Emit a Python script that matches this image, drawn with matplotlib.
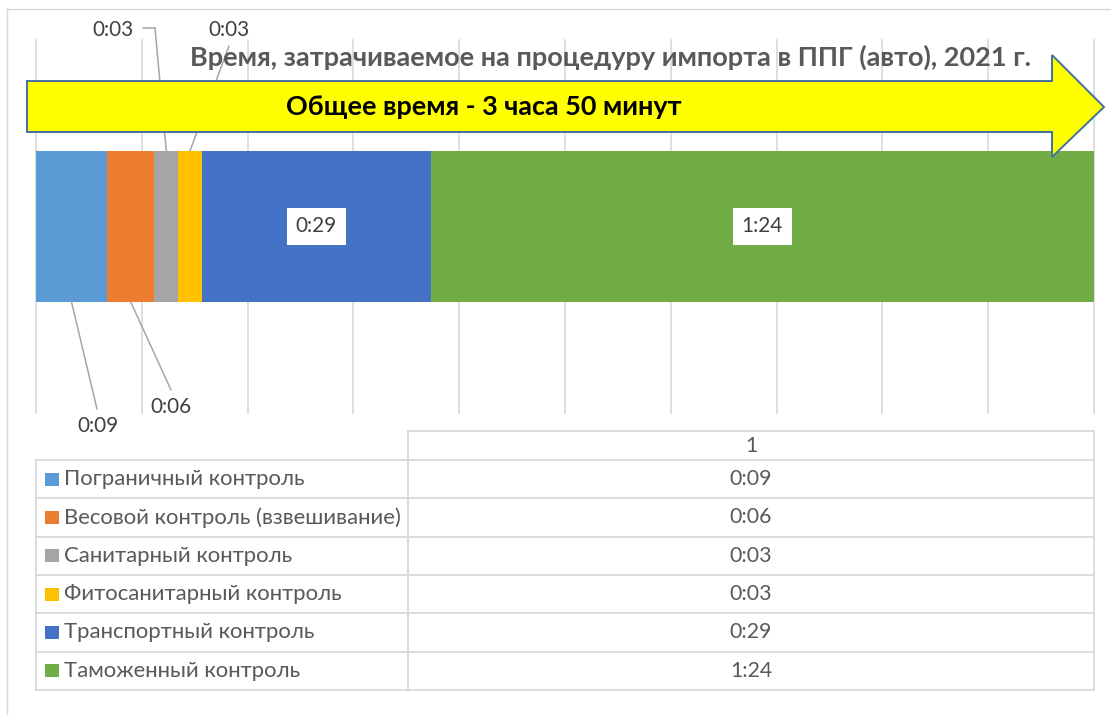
import matplotlib
matplotlib.use('Agg')
import matplotlib.pyplot as plt
from matplotlib.patches import Polygon, Rectangle
from matplotlib.lines import Line2D
from matplotlib.transforms import IdentityTransform
import numpy as np

# ---------------- data ----------------
categories = ['Пограничный контроль', 'Весовой контроль (взвешивание)',
              'Санитарный контроль', 'Фитосанитарный контроль',
              'Транспортный контроль', 'Таможенный контроль']
minutes = [9, 6, 3, 3, 29, 84]
colors = ['#5B9BD5', '#ED7D31', '#A5A5A5', '#FFC000', '#4472C4', '#70AD47']
series_name = '1'
title = 'Время, затрачиваемое на процедуру импорта в ППГ (авто), 2021 г.'
banner = 'Общее время - 3 часа 50 минут'


def fmt(m):
    return f'{m // 60}:{m % 60:02d}'


W, H = 1111, 715
plt.rcParams['font.family'] = ['Lato', 'DejaVu Sans']
fig = plt.figure(figsize=(W / 100, H / 100), dpi=100)
renderer = fig.canvas.get_renderer()


def fx(x):
    return x / W


def fy(y):
    return 1 - y / H


def fit_size(s, target_w, weight='normal'):
    t = fig.text(0, 0, s, fontsize=10, fontweight=weight)
    w = t.get_window_extent(renderer).width
    t.remove()
    return 10 * target_w / w


GRID = '#D9D9D9'

# chart border
fig.add_artist(Line2D([fx(7), fx(7)], [fy(9), fy(715)], color=GRID, lw=1))
fig.add_artist(Line2D([fx(7), fx(1111)], [fy(9), fy(9)], color=GRID, lw=1))

# ---------------- bar axes ----------------
ax = fig.add_axes([fx(36), fy(413), (1094 - 36) / W, (413 - 40) / H])
total = sum(minutes)
ax.set_xlim(0, total)
ax.set_ylim(0, 1)
bar_h = 0.405
starts = np.cumsum([0] + minutes[:-1])
for s, v, c in zip(starts, minutes, colors):
    ax.barh(0.5, v, left=s, height=bar_h, color=c, zorder=2)
ax.set_xticks(np.linspace(0, total, 11))
ax.set_yticks([])
ax.grid(axis='x', color=GRID, lw=1.2, zorder=0)
for gl in ax.get_xgridlines():
    gl.set_clip_on(False)
ax.tick_params(length=0, labelbottom=False)
for sp in ax.spines.values():
    sp.set_visible(False)
ax.set_facecolor('none')

mids = starts + np.array(minutes) / 2
lab_fs = fit_size('0:09', 41)
LAB = '#404040'
LEAD = '#A6A6A6'
ytop = 0.5 + bar_h / 2
ybot = 0.5 - bar_h / 2

# outside labels (index, label center px, leader end px, bar edge, elbow px)
outside = [
    (0, (97.5, 426), (97, 409), ybot, None),
    (1, (170.5, 407), (171, 390), ybot, None),
    (2, (112.5, 29.5), (155, 28), ytop, (143, 28)),
    (3, (229, 29.5), (229, 46), ytop, None),
]
for i, (tx, ty), (lx, ly), yedge, elbow in outside:
    ax.annotate('', xy=(mids[i], yedge), xycoords='data',
                xytext=(fx(lx), fy(ly)), textcoords='figure fraction',
                arrowprops=dict(arrowstyle='-', color=LEAD, lw=1.1,
                                shrinkA=0, shrinkB=0), annotation_clip=False)
    if elbow is not None:
        ax.add_line(Line2D([fx(elbow[0]), fx(lx)], [fy(elbow[1]), fy(ly)],
                           transform=fig.transFigure, color=LEAD, lw=1.1,
                           clip_on=False))
    fig.text(fx(tx), fy(ty), fmt(minutes[i]), ha='center', va='center',
             fontsize=lab_fs, color=LAB)

# inside labels with white boxes
for i in (4, 5):
    cx, cy = ax.transData.transform((mids[i], 0.5))
    ax.add_patch(Rectangle((cx - 29.5, cy - 18.5), 59, 37, transform=IdentityTransform(),
                           facecolor='white', edgecolor='none', zorder=3))
    ax.text(mids[i], 0.5, fmt(minutes[i]), ha='center', va='center',
            fontsize=lab_fs, color=LAB, zorder=4)
ax.set_xlim(0, total)
ax.set_ylim(0, 1)

# ---------------- title ----------------
fig.text(fx(611), fy(57), title, ha='center', va='center', fontweight='bold',
         fontsize=fit_size(title, 842, 'bold'), color='#595959', zorder=3)

# ---------------- banner arrow ----------------
pts = [(27, 81), (1052, 81), (1052, 55), (1104, 107), (1052, 157), (1052, 132), (27, 132)]
fig.add_artist(Polygon([(fx(x), fy(y)) for x, y in pts], closed=True,
                       transform=fig.transFigure, facecolor='#FFFF00',
                       edgecolor='#41719C', lw=1.4, zorder=5))
fig.text(fx(484), fy(107), banner, ha='center', va='center', fontweight='bold',
         fontsize=fit_size(banner, 396, 'bold'), color='black', zorder=6)

# ---------------- data table ----------------
TL = dict(color=GRID, lw=1.3)
x0, xs, x1 = 36, 408, 1094
yh0, yr0, rh = 431, 460, 38.3
nrows = len(categories)
yend = yr0 + nrows * rh


def hline(xa, xb, y):
    fig.add_artist(Line2D([fx(xa), fx(xb)], [fy(y), fy(y)], **TL))


def vline(x, ya, yb):
    fig.add_artist(Line2D([fx(x), fx(x)], [fy(ya), fy(yb)], **TL))


hline(xs, x1, yh0)
vline(xs, yh0, yend)
vline(x1, yh0, yend)
vline(x0, yr0, yend)
for k in range(nrows + 1):
    hline(x0, x1, yr0 + k * rh)

val_fs = fit_size('0:09', 42)
leg_fs = fit_size(max(categories, key=len), 341)
fig.text(fx((xs + x1) / 2), fy((yh0 + yr0) / 2), series_name, ha='center', va='center',
         fontsize=val_fs, color='#595959')
for k, (cat, v, c) in enumerate(zip(categories, minutes, colors)):
    yc = yr0 + (k + 0.5) * rh
    fig.add_artist(Rectangle((fx(45), fy(yc + 6.5)), 14 / W, 13 / H,
                             transform=fig.transFigure, facecolor=c, edgecolor='none'))
    fig.text(fx(64), fy(yc), cat, ha='left', va='center', fontsize=leg_fs, color='#595959')
    fig.text(fx((xs + x1) / 2), fy(yc), fmt(v), ha='center', va='center',
             fontsize=val_fs, color='#595959')

fig.savefig('out.png', dpi=100)
